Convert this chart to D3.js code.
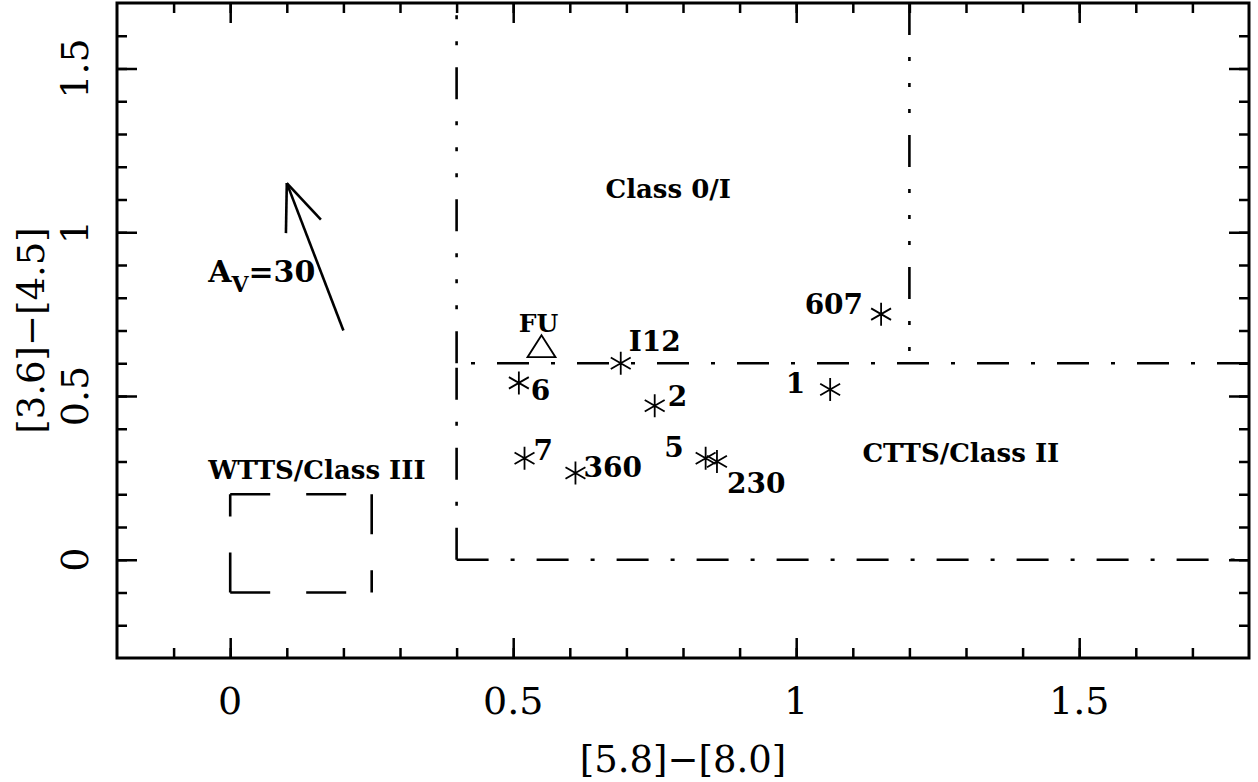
<!DOCTYPE html>
<html><head><meta charset="utf-8">
<script src="https://cdn.jsdelivr.net/npm/d3@7"></script>
<style>body{margin:0;background:#fff}</style>
</head><body>
<svg id="c" width="1258" height="782"></svg>
<script>
// ---- data ----
const srcNames = ["6", "7", "360", "I12", "2", "5", "230", "1", "607"];
const srcX = [0.51, 0.52, 0.61, 0.69, 0.75, 0.84, 0.86, 1.06, 1.15];
const srcY = [0.54, 0.31, 0.265, 0.60, 0.47, 0.31, 0.30, 0.52, 0.75];
const fuNames = ["FU"];
const fuX = [0.55];
const fuY = [0.64];
const xTicks = [0, 0.5, 1, 1.5];
const xTickLabels = ["0", "0.5", "1", "1.5"];
const yTicks = [0, 0.5, 1, 1.5];
const yTickLabels = ["0", "0.5", "1", "1.5"];
const xMinorTicks = d3.range(-1, 18).map(i => i / 10);
const yMinorTicks = d3.range(-2, 17).map(i => i / 10);
const xDomain = [-0.2, 1.8];
const yDomain = [-0.3, 1.7];
// class boundaries (data units)
const class0Left = [[0.4, 0.6], [0.4, 1.7]];
const class0Right = [[1.2, 1.7], [1.2, 0.6]];
const class2Top = [[1.8, 0.6], [0.4, 0.6]];
const class2Left = [[0.4, 0], [0.4, 0.6]];
const class2Bottom = [[0.4, 0], [1.8, 0]];
const class3Box = [
  [[0, 0.2], [0.25, 0.2]],
  [[0.25, 0.2], [0.25, -0.1]],
  [[0, -0.1], [0.25, -0.1]],
  [[0, -0.1], [0, 0.2]]
];
const avTail = [0.2, 0.7];
const avTip = [0.1, 1.15];
const regionNames = ["Class 0/I", "WTTS/Class III", "CTTS/Class II"];
const regionX = [0.663, -0.039, 1.117];
const regionY = [1.104, 0.248, 0.300];
const xTitle = "[5.8]\u2212[8.0]";
const yTitle = "[3.6]\u2212[4.5]";

// ---- layout (pixels) ----
const labelDx = [12, 9, 8, 8, 13, -22, 10, -25, -18];
const labelDy = [17, 2, 4, -12, 0, -1, 31, 4, 0];
const labelAnchor = ["start","start","start","start","start","end","start","end","end"];

const L = 117, R = 1249, T = 3, B = 658;
const x = d3.scaleLinear(xDomain, [L, R]);
const y = d3.scaleLinear(yDomain, [B, T]);
const svg = d3.select("#c");
const line = d3.line().x(d => x(d[0])).y(d => y(d[1]));
const tickFont = "DejaVu Serif";

// axes ticks (inward, all four sides)
function addAxis(gen, tr) {
  const g = svg.append("g").attr("transform", tr).call(gen);
  g.select(".domain").remove();
  g.selectAll("line").attr("stroke", "#000").attr("stroke-width", 2.5);
  g.selectAll("text").remove();
}
addAxis(d3.axisBottom(x).tickValues(xTicks).tickSize(-20), `translate(0,${B})`);
addAxis(d3.axisBottom(x).tickValues(xMinorTicks).tickSize(-10), `translate(0,${B})`);
addAxis(d3.axisTop(x).tickValues(xTicks).tickSize(-20), `translate(0,${T})`);
addAxis(d3.axisTop(x).tickValues(xMinorTicks).tickSize(-10), `translate(0,${T})`);
addAxis(d3.axisLeft(y).tickValues(yTicks).tickSize(-20), `translate(${L},0)`);
addAxis(d3.axisLeft(y).tickValues(yMinorTicks).tickSize(-10), `translate(${L},0)`);
addAxis(d3.axisRight(y).tickValues(yTicks).tickSize(-20), `translate(${R},0)`);
addAxis(d3.axisRight(y).tickValues(yMinorTicks).tickSize(-10), `translate(${R},0)`);

svg.append("rect").attr("x", L).attr("y", T).attr("width", R - L).attr("height", B - T)
  .attr("fill", "none").attr("stroke", "#000").attr("stroke-width", 3);

// tick labels
svg.append("g").selectAll("text").data(xTicks).join("text")
  .attr("x", d => x(d)).attr("y", 714).attr("text-anchor", "middle")
  .attr("font-family", tickFont).attr("font-size", 38).text((d, i) => xTickLabels[i]);
svg.append("g").selectAll("text").data(yTicks).join("text")
  .attr("transform", d => `translate(88,${y(d)}) rotate(-90)`).attr("text-anchor", "middle")
  .attr("font-family", tickFont).attr("font-size", 38).text((d, i) => yTickLabels[i]);
svg.append("text").attr("x", (L + R) / 2).attr("y", 772).attr("text-anchor", "middle")
  .attr("font-family", tickFont).attr("font-size", 37).text(xTitle);
svg.append("text").attr("transform", `translate(44,${(T + B) / 2}) rotate(-90)`).attr("text-anchor", "middle")
  .attr("font-family", tickFont).attr("font-size", 37).text(yTitle);

// boundaries
const dashDot = "32,22,4,22";
const dashDots = "32,22,4,22,4,22,4,22";
function bline(pts, dash) {
  svg.append("path").attr("d", line(pts)).attr("fill", "none").attr("stroke", "#000")
    .attr("stroke-width", 2.6).attr("stroke-dasharray", dash);
}
bline(class0Left, dashDots);
bline(class0Right, dashDots);
bline(class2Top, dashDot);
bline(class2Left, dashDot);
bline(class2Bottom, dashDot);
class3Box.forEach(s => bline(s, "40,36"));

// reddening arrow
svg.append("path").attr("d", line([avTail, avTip])).attr("stroke", "#000").attr("stroke-width", 2.6).attr("fill", "none");
(function () {
  const tx = x(avTip[0]), ty = y(avTip[1]);
  const bx = x(avTail[0]) - tx, by = y(avTail[1]) - ty;
  const ang = Math.atan2(by, bx), len = 50, a = 22 * Math.PI / 180;
  [ang - a, ang + a].forEach(t => {
    svg.append("line").attr("x1", tx).attr("y1", ty)
      .attr("x2", tx + len * Math.cos(t)).attr("y2", ty + len * Math.sin(t))
      .attr("stroke", "#000").attr("stroke-width", 2.6);
  });
})();
const av = svg.append("text").attr("x", x(-0.039)).attr("y", y(0.847))
  .attr("font-family", "DejaVu Serif").attr("font-weight", "bold").attr("font-size", 30);
av.append("tspan").text("A");
av.append("tspan").attr("font-size", 22).attr("dy", 10).text("V");
av.append("tspan").attr("dy", -10).text("=30");

// region labels
regionNames.forEach((t, i) => {
  svg.append("text").attr("x", x(regionX[i])).attr("y", y(regionY[i]))
    .attr("font-family", "DejaVu Serif").attr("font-weight", "bold")
    .attr("font-size", 26).text(t);
});

// asterisks
const r = 11.5;
const star = d3.path();
[90, 30, -30].forEach(deg => {
  const t = deg * Math.PI / 180;
  star.moveTo(-r * Math.cos(t), -r * Math.sin(t));
  star.lineTo(r * Math.cos(t), r * Math.sin(t));
});
svg.append("g").selectAll("path").data(srcX).join("path")
  .attr("transform", (d, i) => `translate(${x(d)},${y(srcY[i])})`)
  .attr("d", star.toString()).attr("stroke", "#000").attr("stroke-width", 1.8).attr("fill", "none");
svg.append("g").selectAll("text").data(srcNames).join("text")
  .attr("x", (d, i) => x(srcX[i]) + labelDx[i]).attr("y", (d, i) => y(srcY[i]) + labelDy[i])
  .attr("text-anchor", (d, i) => labelAnchor[i])
  .attr("font-family", "DejaVu Serif").attr("font-weight", "bold").attr("font-size", 28).text(d => d);

// FU triangle
const tri = "M0,-15 L14,7 L-14,7 Z";
svg.append("g").selectAll("path").data(fuX).join("path")
  .attr("transform", (d, i) => `translate(${x(d)},${y(fuY[i])})`)
  .attr("d", tri).attr("stroke", "#000").attr("stroke-width", 1.8).attr("fill", "none");
svg.append("g").selectAll("text").data(fuNames).join("text")
  .attr("x", (d, i) => x(fuX[i]) - 3).attr("y", (d, i) => y(fuY[i]) - 18)
  .attr("text-anchor", "middle").attr("font-family", "DejaVu Serif")
  .attr("font-weight", "bold").attr("font-size", 25).text(d => d);
</script>
</body></html>
